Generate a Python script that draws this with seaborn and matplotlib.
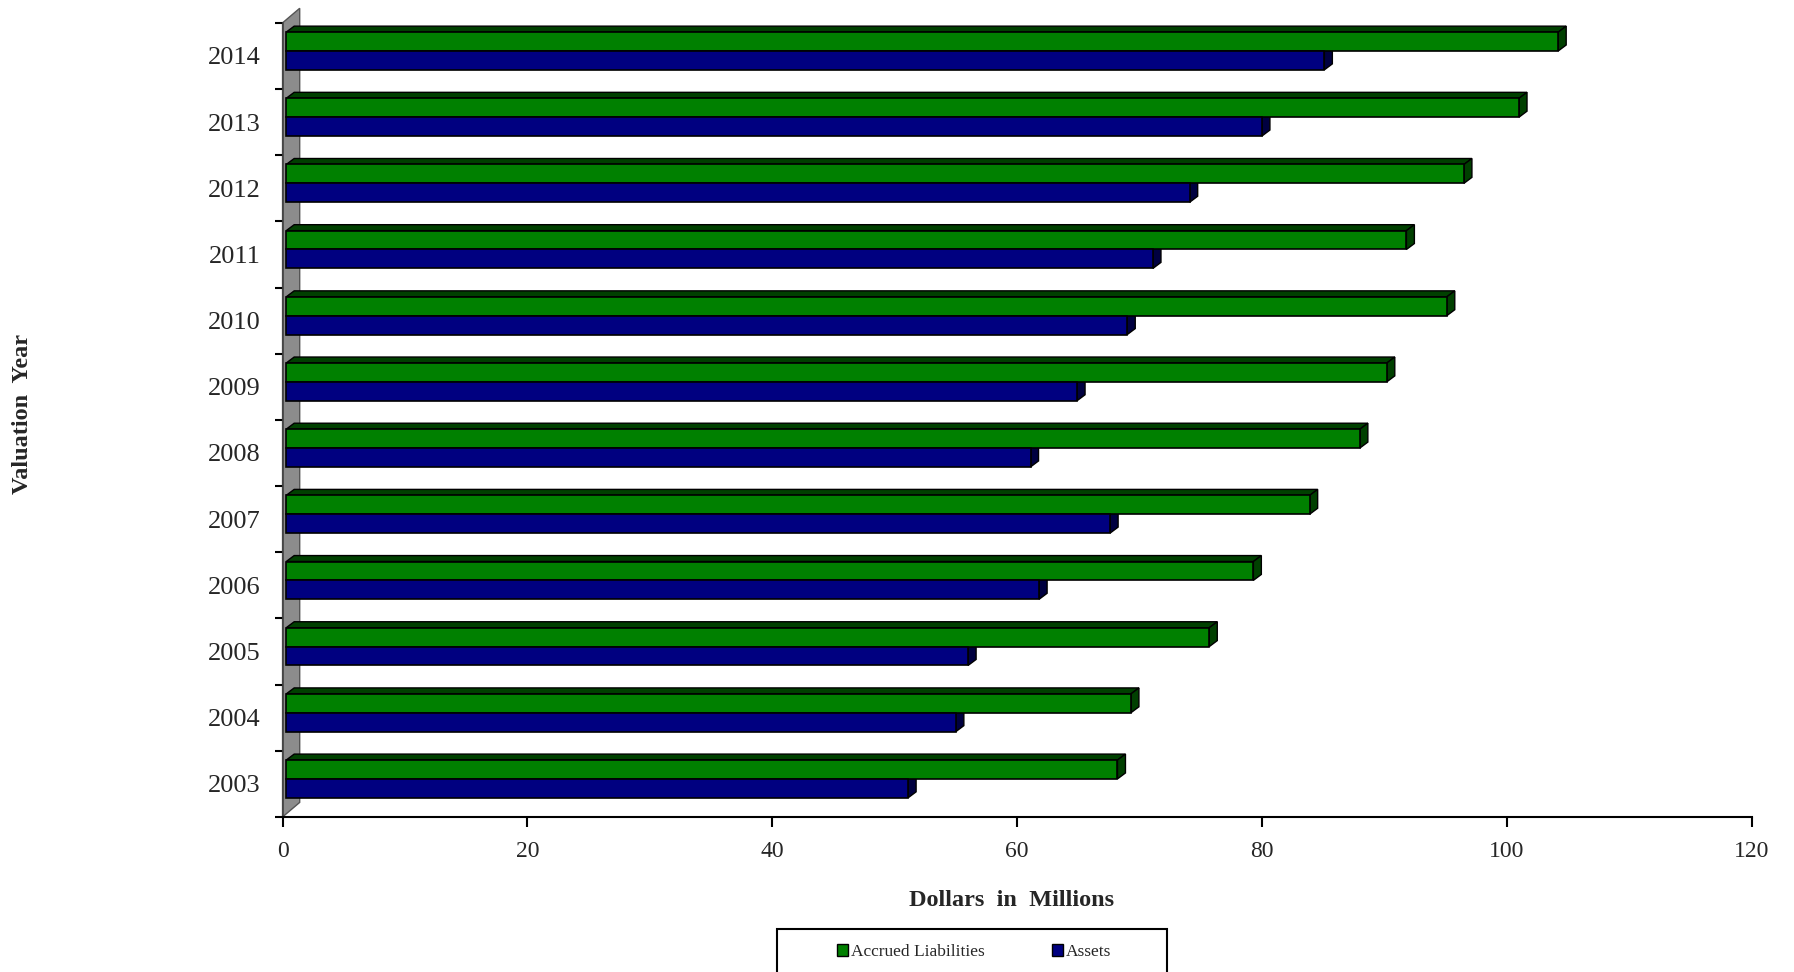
import numpy as np
import pandas as pd
import matplotlib
matplotlib.use("Agg")
import matplotlib.pyplot as plt
import seaborn as sns
from matplotlib.patches import Polygon, Rectangle
from matplotlib.colors import to_rgb

# Valuation years, newest first (top of chart)
years = ["2014", "2013", "2012", "2011", "2010", "2009",
         "2008", "2007", "2006", "2005", "2004", "2003"]
# Dollars in millions
accrued_liabilities = [103.9, 100.7, 96.2, 91.5, 94.8, 89.9,
                       87.7, 83.6, 79.0, 75.4, 69.0, 67.9]
assets = [84.8, 79.7, 73.8, 70.8, 68.7, 64.6,
          60.8, 67.3, 61.5, 55.7, 54.7, 50.8]
series = ["Accrued Liabilities", "Assets"]
colors = ["#008000", "#000080"]
x_ticks = [0, 20, 40, 60, 80, 100, 120]

sns.set_theme(style="white")
plt.rcParams["font.family"] = ["Liberation Serif", "DejaVu Serif"]

df = pd.DataFrame({
    "year": years * 2,
    "value": accrued_liabilities + assets,
    "series": [series[0]] * len(years) + [series[1]] * len(years),
})

fig = plt.figure(figsize=(17.94, 9.72), dpi=100)
ax = fig.add_axes([0.1575, 0.1595, 0.8189, 0.817])

sns.barplot(data=df, x="value", y="year", hue="series", order=years,
            hue_order=series, palette=colors, orient="h", width=0.57,
            dodge=True, saturation=1, edgecolor="black", linewidth=1.2,
            legend=False, ax=ax)

bars = list(ax.patches)

# bars sit in the middle of the chart depth: nudge them off the wall
# and lift each pair slightly within its band
depth_x, shift = 0.3, 0.075
for p in bars:
    p.set_x(p.get_x() + depth_x)
    p.set_y(p.get_y() - shift)

# pseudo-3D: dark top face and end cap on each bar
dx, dy = 0.65, 0.09
for p in bars:
    x0, y0, w, h = p.get_x(), p.get_y(), p.get_width(), p.get_height()
    dark = tuple(c * 0.5 for c in to_rgb(p.get_facecolor()))
    top = Polygon([(x0, y0), (x0 + w, y0), (x0 + w + dx, y0 - dy), (x0 + dx, y0 - dy)],
                  closed=True, facecolor=dark, edgecolor="black", linewidth=1.0,
                  zorder=p.get_zorder() - 0.2)
    cap = Polygon([(x0 + w, y0), (x0 + w + dx, y0 - dy), (x0 + w + dx, y0 + h - dy), (x0 + w, y0 + h)],
                  closed=True, facecolor=dark, edgecolor="black", linewidth=1.0,
                  zorder=p.get_zorder() - 0.1)
    ax.add_patch(top)
    ax.add_patch(cap)

n = len(years)
ax.set_ylim(n - 0.5, -0.5)
ax.set_xlim(0, 120)

# grey side wall behind the bars
wdx, wdy = 1.4, 0.22
wall = Polygon([(0, n - 0.5), (0, -0.5), (wdx, -0.5 - wdy), (wdx, n - 0.5 - wdy)],
               closed=True, facecolor="#8c8c8c", edgecolor="#555555", linewidth=1.0,
               zorder=0.5, clip_on=False)
ax.add_patch(wall)

# axes styling
for s in ["top", "right"]:
    ax.spines[s].set_visible(False)
ax.spines["left"].set_color("#444444")
ax.spines["left"].set_linewidth(1.2)
ax.spines["bottom"].set_color("black")
ax.spines["bottom"].set_linewidth(1.5)

ax.set_xticks(x_ticks)
ax.set_xticklabels([str(t) for t in x_ticks])
ax.set_yticks(range(n))
ax.set_yticklabels(years)
ax.set_yticks(np.arange(-0.5, n, 1), minor=True)
ax.tick_params(axis="x", which="major", direction="out", length=7, width=1.5,
               color="black", labelsize=17, pad=10, bottom=True)
ax.tick_params(axis="y", which="major", length=0, labelsize=19, pad=16)
ax.tick_params(axis="y", which="minor", direction="out", length=6, width=1.5,
               color="black", left=True)
ax.set_xlabel("")
ax.set_ylabel("")
ax.grid(False)

fig.text(0.564, 0.074, "Dollars  in  Millions", ha="center", va="center",
         fontsize=17.5, fontweight="bold")
fig.text(0.0128, 0.574, "Valuation  Year", ha="center", va="center",
         rotation=90, fontsize=17.5, fontweight="bold")

# legend box running off the bottom edge
fig.patches.append(Rectangle((0.433, -0.03), 0.2175, 0.0742, transform=fig.transFigure,
                             facecolor="white", edgecolor="black", linewidth=1.5))
handles = [Rectangle((0, 0), 1, 1, facecolor=c, edgecolor="black", linewidth=1.0)
           for c in colors]
fig.legend(handles, series, loc="center", bbox_to_anchor=(0.543, 0.0206), ncol=2,
           frameon=False, fontsize=12.5, handlelength=0.65, handleheight=0.65,
           handletextpad=0.15, columnspacing=3.9, borderpad=0)

fig.savefig("out.png", dpi=100)
